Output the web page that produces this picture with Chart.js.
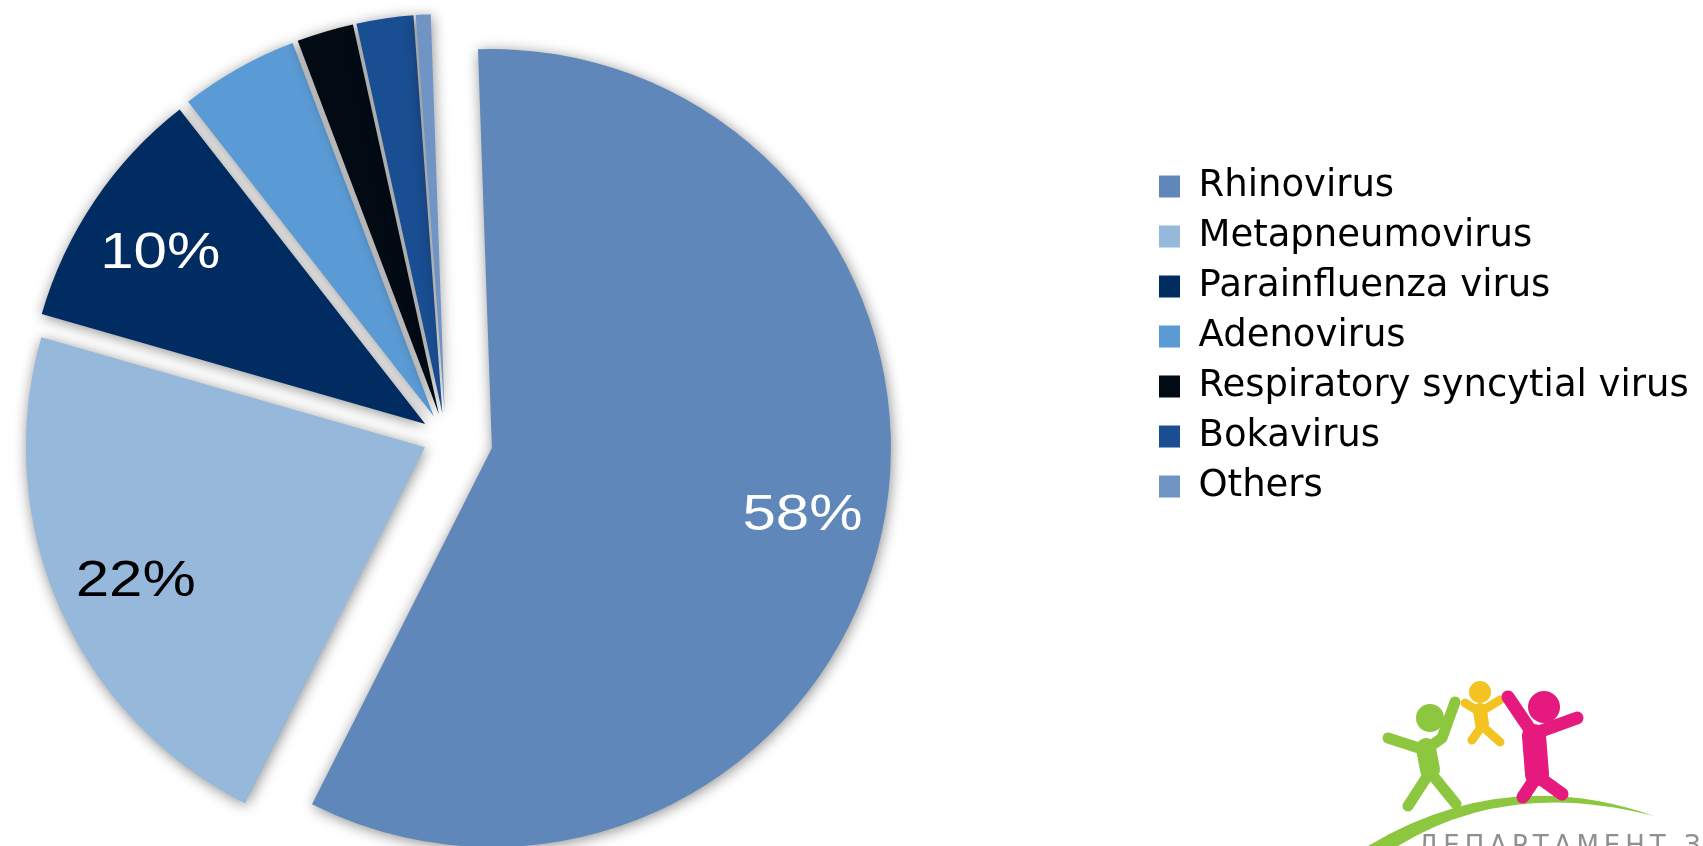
<!DOCTYPE html>
<html>
<head>
<meta charset="utf-8">
<title>Respiratory viruses</title>
<script src="https://cdn.jsdelivr.net/npm/chart.js@4.4.1/dist/chart.umd.min.js"></script>
<style>
    html, body { margin: 0; padding: 0; background: #fff; overflow: hidden; }
    #wrap { position: relative; width: 1703px; height: 846px; overflow: hidden; }
    /* canvas is wider than the page so the pie can sit left of the legend */
    #pie { position: absolute; left: -254px; top: 0; width: 1957px; height: 846px; }
    #logo { position: absolute; left: 1330px; top: 660px; }
</style>
</head>
<body>
<div id="wrap">
    <div id="pie"><canvas id="myPieChart"></canvas></div>
    <canvas id="logo" width="373" height="186"></canvas>
</div>
<script>
const viruses = ['Rhinovirus', 'Metapneumovirus', 'Parainfluenza virus', 'Adenovirus',
                 'Respiratory syncytial virus', 'Bokavirus', 'Others'];
const shares = [58, 22, 10, 4.8, 2.3, 2.3, 0.6];

const sliceColors = ['#5f87b9', '#95b8db', '#002c62', '#5b9bd5', '#020a14', '#1a4e92', '#7094c4'];
const labelColors = ['#ffffff', '#000000', '#ffffff', '#ffffff', '#ffffff', '#ffffff', '#ffffff'];
const explode = [47, 23, 25, 25, 25, 25, 25]; // px each slice is pulled out

const canvasWidth = 1957;
const pieCenterX = 700;     // chart area runs 0..2*pieCenterX
const legendFont = { family: 'DejaVu Sans', size: 37 };
const legendPad = 13;
const legendBox = 21;

// legend width, so that it starts right where the chart area ends
const measure = document.createElement('canvas').getContext('2d');
measure.font = legendFont.size + 'px ' + legendFont.family;
const longest = Math.max(...viruses.map(v => measure.measureText(v).width));
const legendWidth = legendPad + legendBox + legendFont.size / 2 + longest + 10;
const padRight = canvasWidth - 2 * pieCenterX - legendWidth;

// move every slice out along its middle angle
const explodeSlices = {
    id: 'explodeSlices',
    afterDatasetUpdate(chart, args) {
        args.meta.data.forEach((arc, i) => {
            const mid = (arc.startAngle + arc.endAngle) / 2;
            arc.x += Math.cos(mid) * explode[i];
            arc.y += Math.sin(mid) * explode[i];
        });
    }
};

// soft shadow round the slices
const sliceShadow = {
    id: 'sliceShadow',
    beforeDatasetDraw(chart) {
        const ctx = chart.ctx;
        ctx.save();
        ctx.shadowColor = 'rgba(0, 0, 0, 0.45)';
        ctx.shadowBlur = 14;
        ctx.shadowOffsetX = 1;
        ctx.shadowOffsetY = 2;
    },
    afterDatasetDraw(chart) {
        chart.ctx.restore();
    }
};

// percentage text on the bigger slices
const sliceLabels = {
    id: 'sliceLabels',
    afterDatasetsDraw(chart) {
        const ctx = chart.ctx;
        const total = shares.reduce((a, b) => a + b, 0);
        const size = 50;
        chart.getDatasetMeta(0).data.forEach((arc, i) => {
            const pct = Math.round(shares[i] / total * 100);
            if (pct < 10) return;
            const mid = (arc.startAngle + arc.endAngle) / 2 - 0.012;
            const r = arc.outerRadius * 0.795;
            ctx.save();
            ctx.translate(arc.x + Math.cos(mid) * r, arc.y + Math.sin(mid) * r);
            ctx.scale(1.2, 1);
            ctx.font = size + 'px "Liberation Sans", Arial, sans-serif';
            ctx.fillStyle = labelColors[i];
            ctx.textAlign = 'center';
            ctx.textBaseline = 'alphabetic';
            ctx.fillText(pct + '%', 0, size * 0.358);
            ctx.restore();
        });
    }
};

const ctx1 = document.getElementById('myPieChart');

new Chart(ctx1, {
    type: 'pie',
    data: {
        labels: viruses,
        datasets: [{
            data: shares,
            backgroundColor: sliceColors,
            borderWidth: 0,
            clip: false
        }]
    },
    options: {
        responsive: true,
        maintainAspectRatio: false,
        animation: false,
        events: [],
        rotation: -2,
        radius: 399,
        layout: {
            padding: { top: 155, bottom: 125, left: 0, right: padRight }
        },
        plugins: {
            tooltip: { enabled: false },
            legend: {
                position: 'right',
                align: 'start',
                labels: {
                    color: '#000',
                    font: legendFont,
                    boxWidth: legendBox,
                    boxHeight: 22,
                    padding: legendPad
                }
            }
        }
    },
    plugins: [explodeSlices, sliceShadow, sliceLabels]
});

// department logo in the corner
function drawLogo() {
    const c = document.getElementById('logo').getContext('2d');
    c.lineCap = 'round';
    c.lineJoin = 'round';

    c.fillStyle = '#8dc63f';
    c.beginPath();
    c.moveTo(38, 186);
    c.quadraticCurveTo(175, 104, 324, 156);
    c.quadraticCurveTo(178, 118, 68, 186);
    c.closePath();
    c.fill();

    const figure = (color, width, head, r, strokes) => {
        c.strokeStyle = color;
        c.fillStyle = color;
        c.lineWidth = width;
        strokes.forEach(pts => {
            c.beginPath();
            c.moveTo(pts[0][0], pts[0][1]);
            pts.slice(1).forEach(p => c.lineTo(p[0], p[1]));
            c.stroke();
        });
        c.beginPath();
        c.arc(head[0], head[1], r, 0, Math.PI * 2);
        c.fill();
    };

    figure('#8dc63f', 11, [100, 58], 14, [
        [[58, 78], [95, 90], [112, 78], [125, 42]],
        [[78, 146], [100, 112], [126, 144]]
    ]);
    c.lineWidth = 20;
    c.beginPath(); c.moveTo(96, 88); c.lineTo(100, 110); c.stroke();

    figure('#f3c322', 9, [150, 32], 11, [
        [[135, 43], [150, 52], [170, 40]],
        [[142, 80], [152, 66], [170, 82]]
    ]);
    c.lineWidth = 14;
    c.beginPath(); c.moveTo(150, 50); c.lineTo(152, 64); c.stroke();

    figure('#e5197e', 13, [214, 47], 16, [
        [[178, 37], [203, 74], [247, 58]],
        [[193, 137], [207, 116], [232, 134]]
    ]);
    c.lineWidth = 24;
    c.beginPath(); c.moveTo(204, 76); c.lineTo(207, 114); c.stroke();

    c.font = '26px "DejaVu Sans"';
    c.fillStyle = '#8f8f8f';
    c.letterSpacing = '5px';
    c.fillText('ДЕПАРТАМЕНТ ЗА', 88, 194);
}
drawLogo();
</script>
</body>
</html>
